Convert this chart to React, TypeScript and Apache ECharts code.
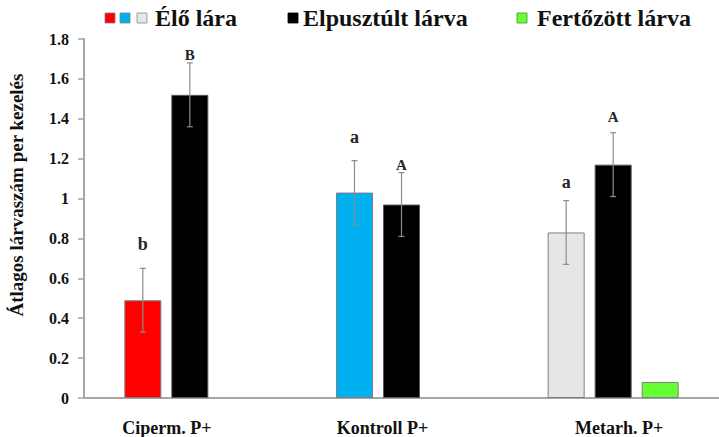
import React, { useEffect, useRef } from "react";
import * as echarts from "echarts";

const categories = ["Ciperm. P+", "Kontroll P+", "Metarh. P+"];
const liveName = "Élő lára";
const deadName = "Elpusztúlt lárva";
const infectedName = "Fertőzött lárva";
const liveValues = [0.49, 1.03, 0.83];
const liveErrors = [0.16, 0.16, 0.16];
const liveColors = ["#ff0000", "#00b0f0", "#e6e6e6"];
const liveLetters = ["b", "a", "a"];
const liveLetterValues = [0.77, 1.31, 1.085];
const deadValues = [1.52, 0.97, 1.17];
const deadErrors = [0.16, 0.16, 0.16];
const deadLetters = ["B", "A", "A"];
const deadLetterValues = [1.72, 1.17, 1.41];
const infectedValues: (number | null)[] = [null, null, 0.08];
const yTicks = { min: 0, max: 1.8, interval: 0.2 };

const FONT = "Liberation Serif";
const BAR_W = 37;
const BAR_GAP = 10;
const DEAD_COLOR = "#000000";
const INFECTED_COLOR = "#66ff33";

function errorSeries(values: number[], errors: number[], letters: string[], letterVals: number[], slot: number) {
  return {
    type: "custom",
    silent: true,
    z: 5,
    data: values.map((v, i) => [i, v, errors[i], letterVals[i]]),
    renderItem: (params: any, api: any) => {
      const cat = api.value(0);
      const val = api.value(1);
      const err = api.value(2);
      const lv = api.value(3);
      const base = api.coord([cat, val]);
      const x = base[0] + slot * (BAR_W + BAR_GAP);
      const yTop = api.coord([cat, val + err])[1];
      const yBot = api.coord([cat, val - err])[1];
      const yLet = api.coord([cat, lv])[1];
      const st = { stroke: "#8c8c8c", lineWidth: 1.2 };
      const letter = letters[params.dataIndex];
      const upper = letter === letter.toUpperCase();
      return {
        type: "group",
        children: [
          { type: "line", shape: { x1: x, y1: yTop, x2: x, y2: yBot }, style: st },
          { type: "line", shape: { x1: x - 3, y1: yTop, x2: x + 3, y2: yTop }, style: st },
          { type: "line", shape: { x1: x - 3, y1: yBot, x2: x + 3, y2: yBot }, style: st },
          {
            type: "text",
            x: x,
            y: yLet,
            style: {
              text: letter,
              fontFamily: FONT,
              fontWeight: "bold",
              fontSize: upper ? 15 : 18,
              fill: "#262626",
              align: "center",
              verticalAlign: "middle",
            },
          },
        ],
      };
    },
  };
}

function legendBox(x: number, color: string, border: string) {
  return {
    type: "rect",
    shape: { x, y: 13, width: 10, height: 10 },
    style: { fill: color, stroke: border, lineWidth: 0.8 },
  };
}

function legendText(x: number, text: string) {
  return {
    type: "text",
    x,
    y: 18,
    style: {
      text,
      fontFamily: FONT,
      fontWeight: "bold",
      fontSize: 24,
      fill: "#111",
      align: "left",
      verticalAlign: "middle",
    },
  };
}

export default function App() {
  const ref = useRef<HTMLDivElement>(null);
  useEffect(() => {
    if (!ref.current) return;
    const chart = echarts.init(ref.current, undefined, { renderer: "svg" });
    const labelShift = [
      { padding: [0, 46, 0, 0] },
      { padding: [0, 38, 0, 0] },
      { padding: [0, 0, 0, 12] },
    ];
    const xRich: any = {};
    labelShift.forEach((s, i) => {
      xRich["l" + i] = { ...s, fontFamily: FONT, fontWeight: "bold", fontSize: 18, color: "#111" };
    });
    chart.setOption({
      animation: false,
      backgroundColor: "#ffffff",
      grid: { left: 84, top: 39, width: 642, height: 362, containLabel: false },
      xAxis: {
        type: "category",
        data: categories,
        boundaryGap: true,
        axisLine: { lineStyle: { color: "#a6a6a6", width: 2 } },
        axisTick: { show: false },
        axisLabel: {
          margin: 21,
          formatter: (v: string) => `{l${categories.indexOf(v)}|${v}}`,
          rich: xRich,
          fontFamily: FONT,
          fontWeight: "bold",
          fontSize: 18,
          color: "#111",
        },
        splitLine: { show: false },
      },
      yAxis: {
        type: "value",
        min: yTicks.min,
        max: yTicks.max,
        interval: yTicks.interval,
        axisLine: { show: true, lineStyle: { color: "#a6a6a6", width: 2 } },
        axisTick: { show: true, length: 6, lineStyle: { color: "#a6a6a6", width: 1.5 } },
        splitLine: { show: false },
        axisLabel: {
          margin: 15,
          fontFamily: FONT,
          fontWeight: "bold",
          fontSize: 16,
          color: "#111",
          formatter: (v: number) => String(Math.round(v * 10) / 10),
        },
      },
      graphic: [
        {
          type: "text",
          x: 16,
          y: 195,
          rotation: Math.PI / 2,
          style: {
            text: "Átlagos lárvaszám per kezelés",
            fontFamily: FONT,
            fontWeight: "bold",
            fontSize: 19,
            fill: "#111",
            align: "center",
            verticalAlign: "middle",
          },
        },
        legendBox(105, liveColors[0], "#7f7f7f"),
        legendBox(120, liveColors[1], "#7f7f7f"),
        legendBox(137, liveColors[2], "#8c8c8c"),
        legendText(155, liveName),
        legendBox(288, DEAD_COLOR, "#000"),
        legendText(303, deadName),
        legendBox(517, INFECTED_COLOR, "#4d8c33"),
        legendText(537, infectedName),
      ],
      series: [
        {
          name: liveName,
          type: "bar",
          barWidth: BAR_W,
          barGap: `${(BAR_GAP / BAR_W) * 100}%`,
          itemStyle: { color: liveColors[0], borderColor: "#7f7f7f", borderWidth: 1 },
          data: liveValues.map((v, i) => ({
            value: v,
            itemStyle: { color: liveColors[i], borderColor: "#7f7f7f", borderWidth: 1 },
          })),
        },
        {
          name: deadName,
          type: "bar",
          barWidth: BAR_W,
          barGap: `${(BAR_GAP / BAR_W) * 100}%`,
          itemStyle: { color: DEAD_COLOR, borderColor: "#595959", borderWidth: 1 },
          data: deadValues,
        },
        {
          name: infectedName,
          type: "bar",
          barWidth: BAR_W,
          barGap: `${(BAR_GAP / BAR_W) * 100}%`,
          itemStyle: { color: INFECTED_COLOR, borderColor: "#7f7f7f", borderWidth: 1 },
          data: infectedValues,
        },
        errorSeries(liveValues, liveErrors, liveLetters, liveLetterValues, -1),
        errorSeries(deadValues, deadErrors, deadLetters, deadLetterValues, 0),
      ],
    });
    return () => chart.dispose();
  }, []);
  return (
    <div
      ref={ref}
      style={{ position: "fixed", left: 0, top: 0, width: 719, height: 437, background: "#fff" }}
    />
  );
}
